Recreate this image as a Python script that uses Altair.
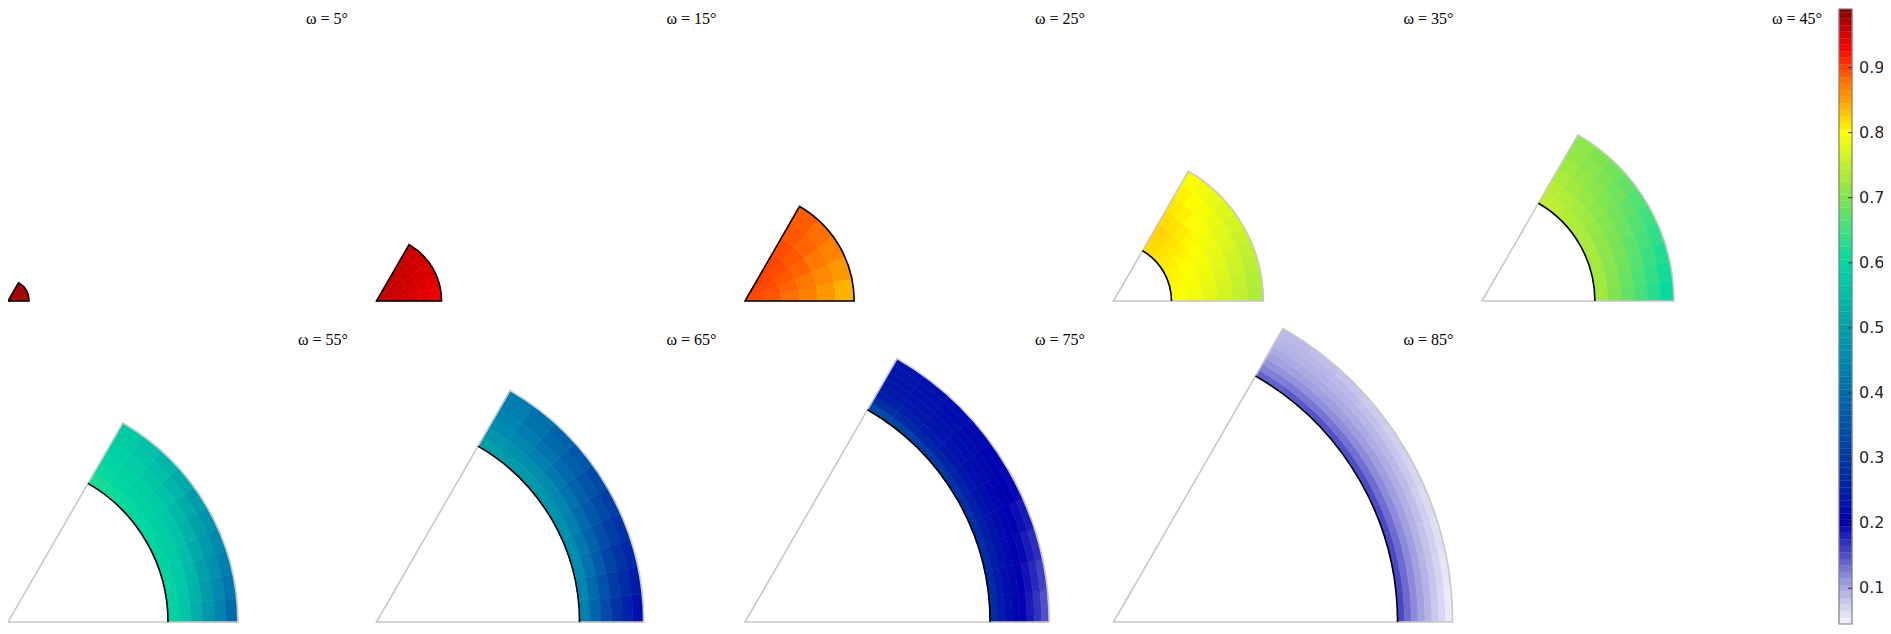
import math
import numpy as np
import altair as alt
import pandas as pd

# ---------------- data ----------------
OMEGA = [5, 15, 25, 35, 45, 55, 65, 75, 85]
# outer / inner radius of each wedge (relative to the largest one)
R_OUT = [0.062, 0.192, 0.322, 0.442, 0.566, 0.678, 0.788, 0.897, 1.0]
R_IN = [0.0, 0.0, 0.0, 0.171, 0.333, 0.472, 0.599, 0.723, 0.838]
SECTOR = 60   # angular extent of each wedge (deg)

# field values: one row per angle bin (bottom -> top, equal bins over 0-60 deg),
# columns = equal radial bins from inner to outer radius
FIELD_05 = [[0.975, 0.975, 0.974, 0.973, 0.972, 0.970],
            [0.975, 0.975, 0.975, 0.974, 0.973, 0.972],
            [0.976, 0.976, 0.975, 0.975, 0.974, 0.973],
            [0.976, 0.976, 0.976, 0.975, 0.975, 0.974],
            [0.977, 0.976, 0.976, 0.976, 0.975, 0.975]]
FIELD_15 = [[0.960, 0.958, 0.955, 0.950, 0.945, 0.940],
            [0.960, 0.958, 0.956, 0.952, 0.948, 0.945],
            [0.961, 0.960, 0.958, 0.955, 0.952, 0.950],
            [0.962, 0.961, 0.960, 0.958, 0.956, 0.955],
            [0.962, 0.962, 0.961, 0.960, 0.959, 0.958]]
FIELD_25 = [[0.895, 0.890, 0.880, 0.870, 0.855, 0.840],
            [0.895, 0.893, 0.885, 0.875, 0.865, 0.855],
            [0.898, 0.895, 0.890, 0.885, 0.875, 0.868],
            [0.900, 0.898, 0.895, 0.890, 0.885, 0.880],
            [0.900, 0.900, 0.898, 0.895, 0.890, 0.888]]
FIELD_35 = [[0.800, 0.790, 0.778, 0.764, 0.750, 0.735],
            [0.801, 0.792, 0.781, 0.768, 0.754, 0.740],
            [0.803, 0.795, 0.785, 0.772, 0.759, 0.746],
            [0.805, 0.798, 0.789, 0.777, 0.764, 0.752],
            [0.807, 0.801, 0.793, 0.782, 0.770, 0.758],
            [0.809, 0.805, 0.798, 0.788, 0.777, 0.765],
            [0.812, 0.810, 0.804, 0.795, 0.785, 0.773],
            [0.815, 0.815, 0.810, 0.802, 0.793, 0.782],
            [0.818, 0.821, 0.815, 0.808, 0.800, 0.790],
            [0.818, 0.823, 0.818, 0.812, 0.806, 0.798]]
FIELD_45 = [[0.725, 0.700, 0.678, 0.655, 0.630, 0.605],
            [0.726, 0.703, 0.682, 0.660, 0.637, 0.614],
            [0.727, 0.706, 0.687, 0.667, 0.646, 0.625],
            [0.728, 0.709, 0.692, 0.674, 0.656, 0.637],
            [0.730, 0.713, 0.698, 0.682, 0.666, 0.650],
            [0.733, 0.718, 0.704, 0.690, 0.677, 0.663],
            [0.736, 0.724, 0.711, 0.699, 0.688, 0.677],
            [0.740, 0.730, 0.718, 0.708, 0.699, 0.690],
            [0.745, 0.737, 0.726, 0.716, 0.708, 0.701],
            [0.748, 0.742, 0.732, 0.723, 0.716, 0.710]]
FIELD_55 = [[0.590, 0.560, 0.522, 0.482, 0.442, 0.402],
            [0.591, 0.565, 0.530, 0.492, 0.455, 0.418],
            [0.592, 0.570, 0.538, 0.503, 0.469, 0.436],
            [0.593, 0.574, 0.547, 0.515, 0.484, 0.455],
            [0.594, 0.578, 0.556, 0.528, 0.500, 0.474],
            [0.596, 0.582, 0.564, 0.541, 0.517, 0.494],
            [0.599, 0.587, 0.572, 0.554, 0.534, 0.514],
            [0.604, 0.592, 0.580, 0.566, 0.550, 0.534],
            [0.612, 0.598, 0.588, 0.577, 0.565, 0.552],
            [0.620, 0.604, 0.594, 0.585, 0.576, 0.567]]
FIELD_65 = [[0.440, 0.390, 0.338, 0.290, 0.255, 0.225],
            [0.448, 0.402, 0.352, 0.306, 0.272, 0.244],
            [0.456, 0.414, 0.368, 0.324, 0.291, 0.264],
            [0.463, 0.426, 0.384, 0.343, 0.312, 0.286],
            [0.470, 0.437, 0.399, 0.362, 0.333, 0.310],
            [0.476, 0.447, 0.413, 0.381, 0.355, 0.334],
            [0.481, 0.456, 0.426, 0.399, 0.377, 0.360],
            [0.486, 0.464, 0.438, 0.416, 0.398, 0.385],
            [0.492, 0.471, 0.449, 0.431, 0.418, 0.408],
            [0.498, 0.477, 0.458, 0.444, 0.435, 0.428]]
FIELD_75 = [[0.270, 0.240, 0.222, 0.210, 0.198, 0.184, 0.168, 0.150],
            [0.272, 0.242, 0.224, 0.212, 0.201, 0.189, 0.175, 0.160],
            [0.275, 0.244, 0.226, 0.215, 0.205, 0.195, 0.183, 0.172],
            [0.279, 0.247, 0.229, 0.218, 0.209, 0.201, 0.192, 0.184],
            [0.284, 0.250, 0.232, 0.221, 0.213, 0.207, 0.200, 0.195],
            [0.290, 0.254, 0.235, 0.224, 0.217, 0.212, 0.207, 0.204],
            [0.298, 0.259, 0.238, 0.228, 0.221, 0.217, 0.214, 0.212],
            [0.308, 0.265, 0.242, 0.232, 0.226, 0.222, 0.220, 0.219],
            [0.320, 0.273, 0.247, 0.236, 0.230, 0.227, 0.225, 0.225],
            [0.332, 0.282, 0.253, 0.241, 0.235, 0.232, 0.231, 0.231]]
FIELD_85 = [[0.155, 0.135, 0.118, 0.104, 0.092, 0.080, 0.067, 0.052],
            [0.155, 0.135, 0.118, 0.104, 0.093, 0.082, 0.070, 0.056],
            [0.154, 0.135, 0.118, 0.105, 0.094, 0.084, 0.073, 0.061],
            [0.154, 0.134, 0.118, 0.105, 0.095, 0.086, 0.076, 0.066],
            [0.153, 0.134, 0.118, 0.106, 0.096, 0.088, 0.079, 0.070],
            [0.152, 0.133, 0.118, 0.106, 0.097, 0.090, 0.082, 0.074],
            [0.150, 0.132, 0.117, 0.106, 0.098, 0.091, 0.085, 0.078],
            [0.148, 0.130, 0.116, 0.106, 0.099, 0.093, 0.088, 0.082],
            [0.145, 0.128, 0.115, 0.105, 0.099, 0.094, 0.090, 0.086],
            [0.140, 0.125, 0.113, 0.104, 0.098, 0.094, 0.091, 0.089]]
FIELDS = [FIELD_05, FIELD_15, FIELD_25, FIELD_35, FIELD_45,
          FIELD_55, FIELD_65, FIELD_75, FIELD_85]

# colour bar
CB_MIN, CB_MAX, CB_STEP = 0.045, 0.99, 0.01
CB_TICKS = [0.1, 0.2, 0.3, 0.4, 0.5, 0.6, 0.7, 0.8, 0.9]
CMAP_STOPS = [0.045, 0.08, 0.10, 0.12, 0.15, 0.20, 0.25, 0.30, 0.35, 0.40,
              0.45, 0.50, 0.55, 0.60, 0.65, 0.70, 0.75, 0.80, 0.82, 0.85,
              0.88, 0.90, 0.93, 0.96, 0.99]
CMAP_COLORS = ["#f4f4fb", "#c8c8ec", "#a8a8e2", "#8888d8", "#5050c8", "#0000b0",
               "#0020a8", "#0038a4", "#0052a8", "#006aac", "#0088b0", "#00a0a8",
               "#00c0a8", "#00d8a0", "#40e080", "#80e450", "#c0f030", "#ffff00",
               "#ffd800", "#ffa000", "#ff7000", "#ff4000", "#ff0000", "#c80000",
               "#800000"]

# ---------------- tables ----------------
cells = []
for p, (rin, rout, grid) in enumerate(zip(R_IN, R_OUT, FIELDS)):
    na = len(grid)
    for i, line in enumerate(grid):
        nr = len(line)
        for j, v in enumerate(line):
            cells.append(dict(col=p % 5, row=p // 5,
                              t0=90 - SECTOR * i / na, t1=90 - SECTOR * (i + 1) / na,
                              r0=rin + (rout - rin) * j / nr,
                              r1=rin + (rout - rin) * (j + 1) / nr, v=v))
cells = pd.DataFrame(cells)

gray, black, titles = [], [], []
for p, (om, rin, rout) in enumerate(zip(OMEGA, R_IN, R_OUT)):
    c, r = p % 5, p // 5
    t_lo, t_hi = 90, 90 - SECTOR
    if rin > 0:
        gray.append(dict(col=c, row=r, t0=t_lo, t1=t_hi, r0=0.0, r1=rout))
        black.append(dict(col=c, row=r, t0=t_lo, t1=t_hi, r0=rin, r1=rin))
    else:
        black.append(dict(col=c, row=r, t0=t_lo, t1=t_hi, r0=0.0, r1=rout))
    titles.append(dict(col=c, row=r, label=f"ω = {om}°"))
gray, black, titles = pd.DataFrame(gray), pd.DataFrame(black), pd.DataFrame(titles)

lv = np.round(np.arange(CB_MIN, CB_MAX, CB_STEP), 4)
bands = pd.DataFrame({"lo": lv, "hi": np.minimum(lv + CB_STEP, CB_MAX)})
bands["mid"] = (bands["lo"] + bands["hi"]) / 2
frame = pd.DataFrame({"lo": [CB_MIN], "hi": [CB_MAX]})
ticks = pd.DataFrame({"t": CB_TICKS, "label": [f"{t:.1f}" for t in CB_TICKS]})

# ---------------- scales ----------------
xs = alt.Scale(domain=[0, 4], range=[0, 1474], nice=False, zero=False)
ys = alt.Scale(domain=[0, 1], range=[293, 614], nice=False, zero=False)
ts = alt.Scale(domain=[0, 360], range=[0, 2 * math.pi], zero=True, nice=False)
rs = alt.Scale(type="linear", domain=[0, 1], range=[0, 339], zero=True, nice=False)
cs = alt.Scale(type="linear", domain=CMAP_STOPS, range=CMAP_COLORS,
               interpolate="rgb", clamp=True)
cbs = alt.Scale(domain=[CB_MIN, CB_MAX], range=[616, 1], nice=False, zero=False)


def polar():
    return dict(
        x=alt.X("col:Q", scale=xs, axis=None),
        y=alt.Y("row:Q", scale=ys, axis=None),
        theta=alt.Theta("t0:Q", scale=ts, stack=False),
        theta2=alt.Theta2("t1:Q"),
        radius=alt.Radius("r0:Q", scale=rs),
        radius2=alt.Radius2("r1:Q"),
    )


cell_layer = alt.Chart(cells).mark_arc(strokeWidth=0.6).encode(
    **polar(),
    color=alt.Color("v:Q", scale=cs, legend=None),
    stroke=alt.Stroke("v:Q", scale=cs, legend=None),
)
gray_layer = alt.Chart(gray).mark_arc(filled=False, stroke="#c8c8c8", strokeWidth=1.6).encode(**polar())
black_layer = alt.Chart(black).mark_arc(filled=False, stroke="#000000", strokeWidth=1.6).encode(**polar())
title_layer = alt.Chart(titles).mark_text(
    align="right", baseline="middle", dx=340, dy=-282,
    font="Liberation Serif", fontSize=16, color="#000000",
).encode(
    x=alt.X("col:Q", scale=xs, axis=None),
    y=alt.Y("row:Q", scale=ys, axis=None),
    text="label:N",
)

# colour bar (drawn from the same colour scale)
cb_bands = alt.Chart(bands).mark_rect(strokeWidth=0.3).encode(
    x=alt.value(1831), x2=alt.value(1844),
    y=alt.Y("lo:Q", scale=cbs, axis=None), y2="hi:Q",
    color=alt.Color("mid:Q", scale=cs, legend=None),
    stroke=alt.Stroke("mid:Q", scale=cs, legend=None),
)
cb_frame = alt.Chart(frame).mark_rect(filled=False, stroke="#808080", strokeWidth=1.2).encode(
    x=alt.value(1831), x2=alt.value(1844),
    y=alt.Y("lo:Q", scale=cbs, axis=None), y2="hi:Q",
)
cb_ticks = alt.Chart(ticks).mark_rule(color="#333333", strokeWidth=1).encode(
    x=alt.value(1840), x2=alt.value(1844),
    y=alt.Y("t:Q", scale=cbs, axis=None),
)
cb_labels = alt.Chart(ticks).mark_text(
    align="left", baseline="middle", font="DejaVu Sans", fontSize=16, color="#262626",
).encode(
    x=alt.value(1851),
    y=alt.Y("t:Q", scale=cbs, axis=None),
    text="label:N",
)

chart = alt.layer(
    cell_layer, gray_layer, black_layer, title_layer,
    cb_bands, cb_frame, cb_ticks, cb_labels,
).resolve_scale(y="independent").properties(
    width=1875, height=618, padding=0,
    autosize=alt.AutoSizeParams(type="none"),
).configure(background="white").configure_view(stroke=None)

chart.save("out.html", embed_options={"renderer": "svg", "actions": False})
